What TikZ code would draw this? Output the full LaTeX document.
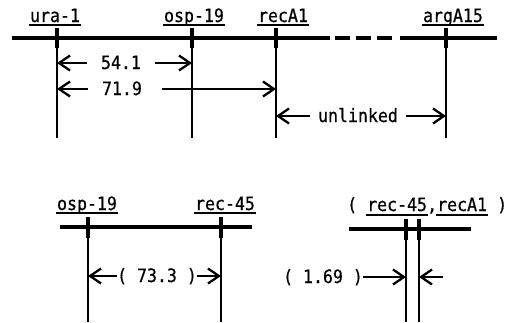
\documentclass[tikz,border=0pt]{standalone}
\usepackage{fontspec}
\newfontfamily\labfam[FakeStretch=0.9,FakeBold=0.6]{DejaVu Sans Mono}
\usetikzlibrary{arrows.meta}
\newcommand\labfont{\labfam\fontsize{18.4}{20}\selectfont}
\begin{document}
\begin{tikzpicture}[x=1pt,y=-1pt,
  chrom/.style={line width=4pt},
  locus/.style={line width=1.6pt},
  tickmark/.style={line width=3.6pt},
  dist/.style={line width=2pt,-{Straight Barb[length=11pt,width=15pt,line width=2.3pt]}},
  lab/.style={font=\labfont,inner sep=0pt,anchor=base},
  ul/.style={line width=1.3pt}]
\useasboundingbox (0,0) rectangle (518,322);

% ---------- top chromosome ----------
\coordinate (c0) at (12,38);
\coordinate (c1) at (330,38);
\coordinate (d0) at (335,38);
\coordinate (d1) at (393,38);
\coordinate (e0) at (400,38);
\coordinate (e1) at (497,38);
\draw[chrom] (c0) -- (c1);
\draw[chrom,dash pattern=on 15pt off 6pt] (d0) -- (d1);
\draw[chrom] (e0) -- (e1);

\foreach \n/\x in {ura/57,osp/192,rec/276,arg/446}{
  \coordinate (\n T) at (\x,28);
  \coordinate (\n K) at (\x,48);
  \coordinate (\n B) at (\x,138);
  \draw[locus] (\n T) -- (\n B);
  \draw[tickmark] (\n T) -- (\n K);
}

\node[lab] (lura) at (55,22) {ura-1};
\node[lab] (losp) at (194,22) {osp-19};
\node[lab] (lrec) at (283,22) {recA1};
\node[lab] (larg) at (453,22) {argA15};
\foreach \n in {lura,losp,lrec,larg}{
  \draw[ul] ([xshift=-1pt,yshift=-3pt]\n.base west) -- ([xshift=1pt,yshift=-3pt]\n.base east);
}

% distances
\node[lab] (t541) at (121,69) {54.1};
\coordinate (a1) at (57,63);
\coordinate (a2) at (192,63);
\draw[dist] ([xshift=-14pt]t541.west |- a1) -- (a1);
\draw[dist] ([xshift=14pt]t541.east |- a2) -- (a2);

\node[lab] (t719) at (122,95) {71.9};
\coordinate (b1) at (57,89);
\coordinate (b2) at (276,89);
\draw[dist] ([xshift=-14pt]t719.west |- b1) -- (b1);
\draw[dist] ([xshift=20pt]t719.east |- b2) -- (b2);

\node[lab] (tun) at (358,122) {unlinked};
\coordinate (u1) at (276,116);
\coordinate (u2) at (446,116);
\draw[dist] ([xshift=-8pt]tun.west |- u1) -- (u1);
\draw[dist] ([xshift=8pt]tun.east |- u2) -- (u2);

% ---------- bottom left ----------
\coordinate (f0) at (60,227);
\coordinate (f1) at (252,227);
\draw[chrom] (f0) -- (f1);
\foreach \n/\x in {osq/88,rfq/221}{
  \coordinate (\n T) at (\x,217);
  \coordinate (\n K) at (\x,238);
  \coordinate (\n B) at (\x,322);
  \draw[locus] (\n T) -- (\n B);
  \draw[tickmark] (\n T) -- (\n K);
}
\node[lab] (losq) at (87,210) {osp-19};
\node[lab] (lrfq) at (225,210) {rec-45};
\foreach \n in {losq,lrfq}{
  \draw[ul] ([xshift=-1pt,yshift=-3pt]\n.base west) -- ([xshift=1pt,yshift=-3pt]\n.base east);
}
\node[lab] (t733) at (157,282) {( 73.3 )};
\coordinate (g1) at (88,276);
\coordinate (g2) at (221,276);
\draw[dist] (t733.west |- g1) -- (g1);
\draw[dist] (t733.east |- g2) -- (g2);

% ---------- bottom right ----------
\coordinate (h0) at (349,229);
\coordinate (h1) at (471,229);
\draw[chrom] (h0) -- (h1);
\foreach \n/\x in {rga/406,rgb/419}{
  \coordinate (\n T) at (\x,219);
  \coordinate (\n K) at (\x,240);
  \coordinate (\n B) at (\x,322);
  \draw[locus] (\n T) -- (\n B);
  \draw[tickmark] (\n T) -- (\n K);
}
\node[lab,anchor=base west] (po) at (347,211) {(};
\node[lab,anchor=base west] (lr45) at (367,211) {rec-45};
\node[lab,anchor=base west] (cm) at (427,211) {,};
\node[lab,anchor=base west] (lra1) at (437,211) {recA1};
\node[lab,anchor=base west] (pc) at (497,211) {)};
\foreach \n in {lr45,lra1}{
  \draw[ul] ([xshift=-1pt,yshift=-4pt]\n.base west) -- ([xshift=1pt,yshift=-4pt]\n.base east);
}
\node[lab] (t169) at (323,283) {( 1.69 )};
\coordinate (k1) at (406,277);
\coordinate (k2) at (419,277);
\coordinate (k3) at (443,277);
\draw[dist] (t169.east |- k1) -- (k1);
\draw[dist] (k3) -- (k2);
\end{tikzpicture}
\end{document}
